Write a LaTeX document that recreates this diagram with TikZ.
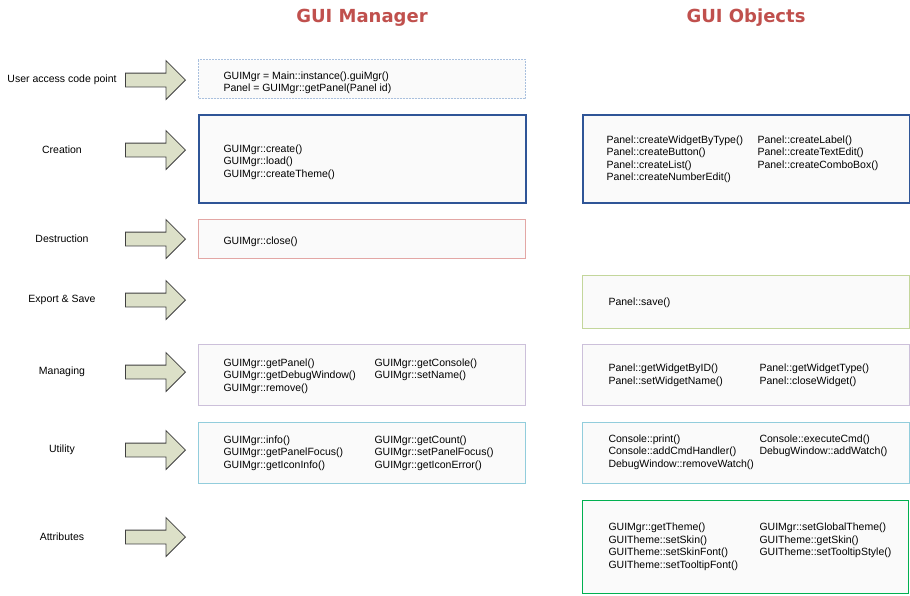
\documentclass[tikz,border=0pt]{standalone}
\usepackage{fontspec}
\setmainfont{Liberation Sans}
\newfontfamily\titlefont{DejaVu Sans}
\usetikzlibrary{shapes.arrows}
\definecolor{titlered}{HTML}{C0504D}
\definecolor{arrowfill}{HTML}{DCE0C8}
\definecolor{accessline}{HTML}{A9C0DE}
\definecolor{createline}{HTML}{2F5597}
\definecolor{destroyline}{HTML}{E3A7A5}
\definecolor{saveline}{HTML}{C3D69B}
\definecolor{manageline}{HTML}{CCC0DA}
\definecolor{utilline}{HTML}{92CDDC}
\definecolor{attrline}{HTML}{00B050}
\begin{document}
\begin{tikzpicture}[x=1pt,y=-1pt,line width=1pt,
  title/.style={font=\titlefont\bfseries\fontsize{18}{20}\selectfont,text=titlered,inner sep=0},
  rowlabel/.style={font=\fontsize{10.5}{12.6}\selectfont,inner sep=0},
  blockarrow/.style={single arrow,draw=black!75,fill=arrowfill,line width=.8pt,
    inner xsep=0,inner ysep=6.5pt,
    minimum width=38,minimum height=60,single arrow head extend=12.5,
    single arrow tip angle=90,single arrow head indent=0,anchor=tip},
  codebox/.style={draw,fill=black!2,anchor=north west,inner sep=0},
  code/.style={font=\fontsize{10.5}{12.6}\selectfont,align=left,anchor=north west,inner sep=0}]
  \useasboundingbox (0,0) rectangle (910,595);
  % column heads
  \node[title] (mgrhead) at (362,17.5) {GUI Manager};
  \node[title] (objhead) at (746,17.5) {GUI Objects};
  % row labels and arrows
  \foreach \y/\txt [count=\i] in {80/User access code point,150/Creation,239/Destruction,
      300/Export \& Save,372/Managing,450/Utility,537/Attributes} {
    \node[rowlabel] (label\i) at (62,\y) {\txt};
    \node[blockarrow] (arrow\i) at (186,\y) {};
  }
  % (a): user access code point
  \node[codebox,draw=accessline,dash pattern=on 2pt off 1pt,minimum width=327,minimum height=39] (mgraccess) at (198,59) {};
  \node[code] (mgraccesstxt) at (223,71) {GUIMgr = Main::instance().guiMgr()\\Panel = GUIMgr::getPanel(Panel id)};
  % (b): creation
  \node[codebox,draw=createline,line width=1.6pt,minimum width=327,minimum height=88] (mgrcreate) at (198,114) {};
  \node[code] (mgrcreatetxt) at (223,144) {GUIMgr::create()\\GUIMgr::load()\\GUIMgr::createTheme()};
  \node[codebox,draw=createline,line width=1.6pt,minimum width=327,minimum height=88] (objcreate) at (582,114) {};
  \node[code] (objcreatea) at (606,135) {Panel::createWidgetByType()\\Panel::createButton()\\Panel::createList()\\Panel::createNumberEdit()};
  \node[code] (objcreateb) at (757,135) {Panel::createLabel()\\Panel::createTextEdit()\\Panel::createComboBox()};
  % (c): destruction
  \node[codebox,draw=destroyline,minimum width=327,minimum height=39] (mgrdestroy) at (198,219) {};
  \node[code] (mgrdestroytxt) at (223,236) {GUIMgr::close()};
  % (d): export and save
  \node[codebox,draw=saveline,minimum width=327,minimum height=53] (objsave) at (582,275) {};
  \node[code] (objsavetxt) at (608,297.5) {Panel::save()};
  % (e): managing
  \node[codebox,draw=manageline,minimum width=327,minimum height=61] (mgrmanage) at (198,344) {};
  \node[code] (mgrmanagea) at (223,358) {GUIMgr::getPanel()\\GUIMgr::getDebugWindow()\\GUIMgr::remove()};
  \node[code] (mgrmanageb) at (374,358) {GUIMgr::getConsole()\\GUIMgr::setName()};
  \node[codebox,draw=manageline,minimum width=327,minimum height=61] (objmanage) at (582,344) {};
  \node[code] (objmanagea) at (608,363.5) {Panel::getWidgetByID()\\Panel::setWidgetName()};
  \node[code] (objmanageb) at (759,363.5) {Panel::getWidgetType()\\Panel::closeWidget()};
  % (f): utility
  \node[codebox,draw=utilline,minimum width=327,minimum height=61] (mgrutil) at (198,422) {};
  \node[code] (mgrutila) at (223,435) {GUIMgr::info()\\GUIMgr::getPanelFocus()\\GUIMgr::getIconInfo()};
  \node[code] (mgrutilb) at (374,435) {GUIMgr::getCount()\\GUIMgr::setPanelFocus()\\GUIMgr::getIconError()};
  \node[codebox,draw=utilline,minimum width=327,minimum height=61] (objutil) at (582,422) {};
  \node[code] (objutila) at (608,434) {Console::print()\\Console::addCmdHandler()\\DebugWindow::removeWatch()};
  \node[code] (objutilb) at (759,434) {Console::executeCmd()\\DebugWindow::addWatch()};
  % (g): attributes
  \node[codebox,draw=attrline,line width=1.2pt,minimum width=326,minimum height=93] (objattr) at (582,499.5) {};
  \node[code] (objattra) at (608,522.5) {GUIMgr::getTheme()\\GUITheme::setSkin()\\GUITheme::setSkinFont()\\GUITheme::setTooltipFont()};
  \node[code] (objattrb) at (759,522.5) {GUIMgr::setGlobalTheme()\\GUITheme::getSkin()\\GUITheme::setTooltipStyle()};
\end{tikzpicture}
\end{document}
